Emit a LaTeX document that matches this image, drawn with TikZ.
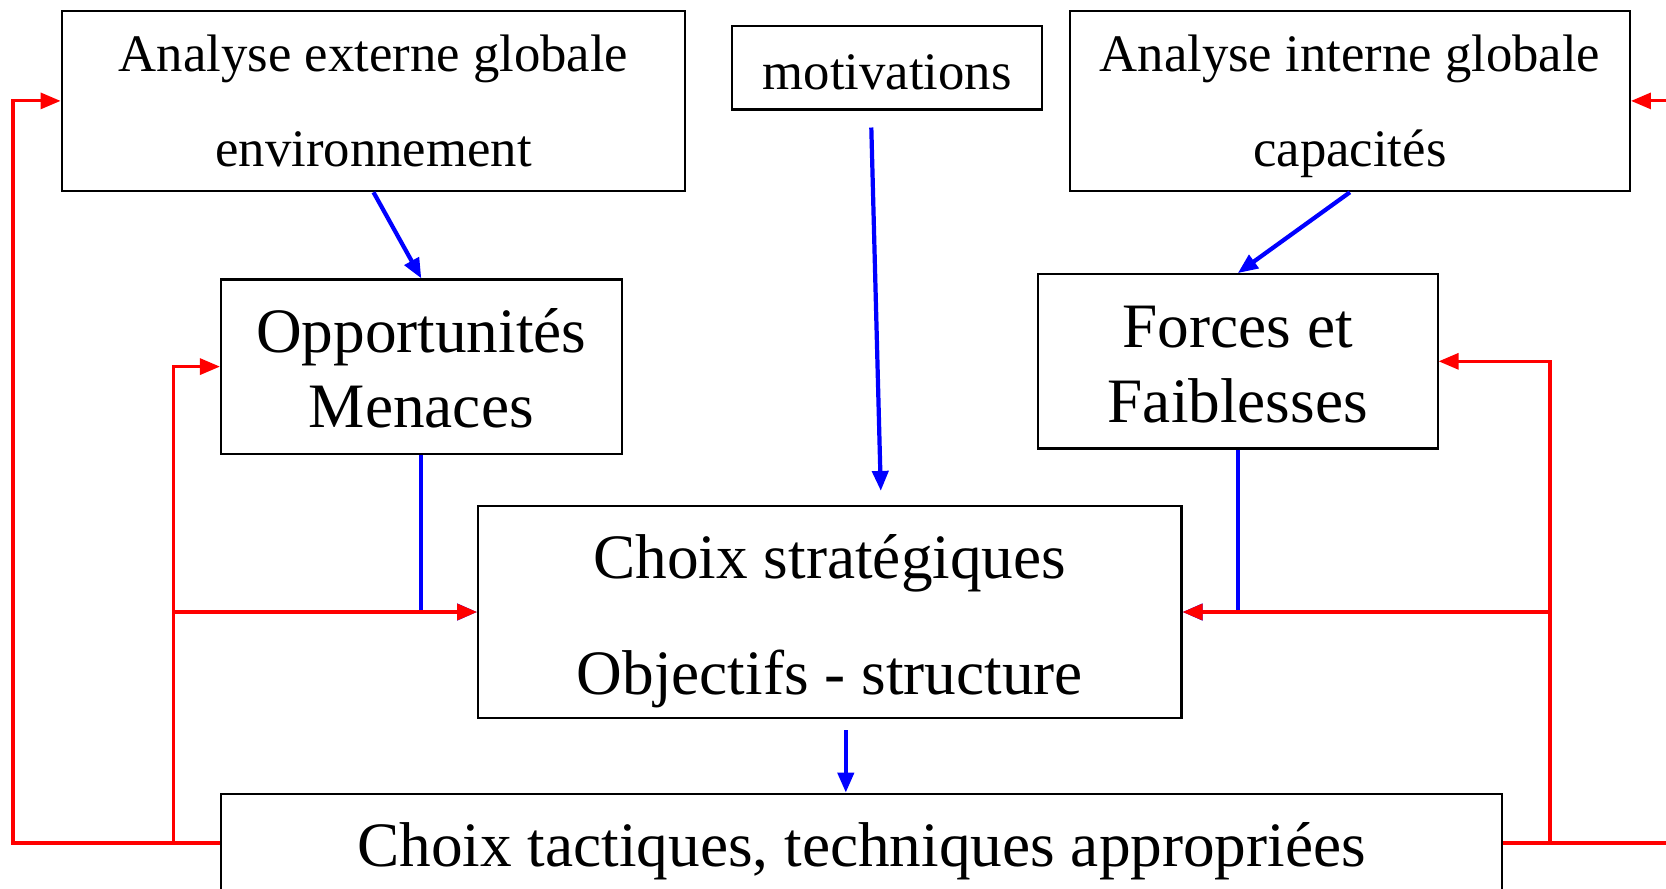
\documentclass[tikz,border=0pt]{standalone}
\usepackage{fontspec}
\setmainfont{Liberation Serif}
\usetikzlibrary{arrows.meta}
\tikzset{box/.style={draw=black, line width=0.6pt, align=center, inner sep=0pt},
 small/.style={font=\fontsize{15}{27}\selectfont},
 big/.style={font=\fontsize{18}{21.3}\selectfont},
 blueline/.style={draw=blue, line width=1.2pt},
 bluearrow/.style={blueline, -{Triangle[length=2mm,width=1.6mm]}},
 redarrow/.style={draw=red, line width=0.9pt, -{Triangle[length=2mm,width=1.6mm]}},
 redline/.style={draw=red, line width=0.9pt},
 }

\begin{document}
\begin{tikzpicture}
        \useasboundingbox (0,0) rectangle (16.66,-8.88);
        \node[box, small, text height=37.3pt, text depth=0pt, minimum width=6.237cm, minimum height=1.806cm] (ext) at (3.735,-1.009) {Analyse externe globale\\environnement};
        \node[box, small, text height=12.4pt, text depth=0pt, minimum width=3.102cm, minimum height=0.839cm] (motiv) at (8.872,-0.675) {motivations};
        \node[box, small, text height=37.3pt, text depth=0pt, minimum width=5.6cm, minimum height=1.806cm] (int) at (13.499,-1.009) {Analyse interne globale\\capacités};
        \node[box, big, text height=34.4pt, text depth=0pt, minimum width=4.006cm, minimum height=1.743cm] (opp) at (4.213,-3.666) {Opportunités\\Menaces};
        \node[box, big, text height=34.6pt, text depth=0pt, minimum width=3.995cm, minimum height=1.743cm] (forces) at (12.378,-3.613) {Forces et\\Faiblesses};
        \node[box, font=\fontsize{18}{33}\selectfont, text height=47pt, text depth=0pt, minimum width=7.034cm, minimum height=2.125cm] (strat) at (8.298,-6.12) {Choix stratégiques\\Objectifs - structure};
        \node[box, big, text height=13.4pt, text depth=0pt, minimum width=12.814cm, minimum height=0.986cm] (bot) at (8.617,-8.43) {Choix tactiques, techniques appropriées};

        \coordinate (m1) at (8.713,-1.275);
        \coordinate (m2) at (8.808,-4.909);
        \coordinate (s1) at (8.458,-7.30);
        \coordinate (lo) at (0.13,-8.43);
        \coordinate (li) at (1.733,-8.43);
        \coordinate (ri) at (15.50,-8.43);
        \coordinate (ro) at (17.2,-8.43);

        \draw[bluearrow] (ext.south) -- (opp.north);
        \draw[bluearrow] (int.south) -- (forces.north);
        \draw[bluearrow] (m1) -- (m2);
        \draw[bluearrow] (s1) -- (s1 |- bot.north);
        \draw[bluearrow] (opp.south) |- (strat.west);
        \draw[bluearrow] (forces.south) |- (strat.east);

        \draw[redarrow] (bot.west) -- (lo) |- (ext.west);
        \draw[redarrow] (li) |- (opp.west);
        \draw[redarrow] (li |- strat.west) -- (strat.west);
        \draw[redarrow] (bot.east) -- (ro) |- (int.east);
        \draw[redarrow] (ri) |- (forces.east);
        \draw[redarrow] (ri |- strat.east) -- (strat.east);
    \end{tikzpicture}
\end{document}
